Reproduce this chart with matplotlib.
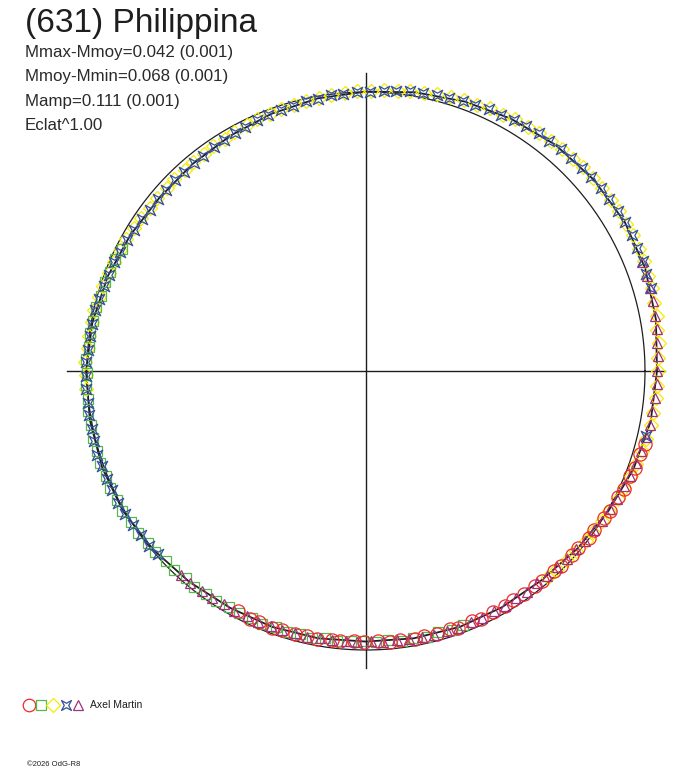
import matplotlib

matplotlib.use("Agg")

import matplotlib.pyplot as plt
import numpy as np
from matplotlib.path import Path

# --- data ------------------------------------------------------------------

TITLE = "(631) Philippina"
INFO_LINES = ["Mmax-Mmoy=0.042 (0.001)", "Mmoy-Mmin=0.068 (0.001)",
              "Mamp=0.111 (0.001)", "Eclat^1.00"]
OBSERVER = "Axel Martin"
CREDIT = "\u00a92026 OdG-R8"

# fitted lightcurve: rotational phase -> magnitude relative to mean
FIT_PHASE = [0.000, 0.028, 0.056, 0.083, 0.111, 0.139, 0.167, 0.194, 0.222,
             0.250, 0.278, 0.306, 0.333, 0.361, 0.389, 0.417, 0.444, 0.472,
             0.500, 0.528, 0.556, 0.583, 0.611, 0.639, 0.667, 0.694, 0.722,
             0.750, 0.778, 0.806, 0.833, 0.861, 0.889, 0.917, 0.944, 0.972]
FIT_MAG = [0.032, 0.018, 0.003, -0.012, -0.027, -0.036, -0.040, -0.036,
           -0.025, -0.012, -0.005, 0.011, 0.030, 0.045, 0.057, 0.059, 0.059,
           0.063, 0.067, 0.063, 0.059, 0.057, 0.049, 0.038, 0.028, 0.026,
           0.028, 0.030, 0.038, 0.049, 0.061, 0.071, 0.069, 0.063, 0.053,
           0.042]

RED_PHASE = [0.291, 0.297, 0.305, 0.310, 0.318, 0.324, 0.333, 0.338, 0.347,
             0.352, 0.361, 0.366, 0.375, 0.380, 0.389, 0.394, 0.402, 0.409,
             0.415, 0.423, 0.431, 0.436, 0.445, 0.450, 0.458, 0.466, 0.471,
             0.480, 0.486, 0.493, 0.501, 0.507, 0.515, 0.520, 0.529, 0.535,
             0.542, 0.550, 0.556, 0.564, 0.570, 0.578]
RED_MAG = [-0.002, 0.004, 0.006, 0.013, 0.015, 0.022, 0.026, 0.031, 0.036,
           0.035, 0.044, 0.043, 0.048, 0.052, 0.053, 0.058, 0.055, 0.060,
           0.056, 0.061, 0.057, 0.062, 0.058, 0.063, 0.059, 0.064, 0.060,
           0.066, 0.063, 0.068, 0.065, 0.069, 0.063, 0.066, 0.060, 0.064,
           0.058, 0.062, 0.056, 0.060, 0.055, 0.059]

GREEN_PHASE = [0.442, 0.449, 0.457, 0.464, 0.472, 0.479, 0.487, 0.494, 0.502,
               0.509, 0.517, 0.524, 0.532, 0.539, 0.547, 0.554, 0.562, 0.569,
               0.577, 0.584, 0.592, 0.599, 0.607, 0.614, 0.622, 0.629, 0.637,
               0.644, 0.652, 0.659, 0.667, 0.674, 0.682, 0.689, 0.697, 0.704,
               0.712, 0.719, 0.727, 0.734, 0.742, 0.749, 0.757, 0.764, 0.772,
               0.779, 0.787, 0.794, 0.802, 0.809, 0.817, 0.824]
GREEN_MAG = [0.063, 0.056, 0.064, 0.059, 0.066, 0.061, 0.068, 0.064, 0.070,
             0.068, 0.062, 0.067, 0.060, 0.064, 0.057, 0.062, 0.055, 0.060,
             0.054, 0.058, 0.051, 0.054, 0.047, 0.050, 0.043, 0.044, 0.037,
             0.039, 0.031, 0.033, 0.026, 0.030, 0.025, 0.029, 0.024, 0.028,
             0.025, 0.030, 0.026, 0.031, 0.027, 0.032, 0.029, 0.036, 0.034,
             0.041, 0.039, 0.047, 0.045, 0.052, 0.050, 0.058]

YELLOW_PHASE = [0.740, 0.748, 0.755, 0.763, 0.770, 0.778, 0.785, 0.793, 0.800,
                0.808, 0.815, 0.823, 0.830, 0.838, 0.845, 0.853, 0.860, 0.868,
                0.875, 0.883, 0.890, 0.898, 0.905, 0.913, 0.920, 0.928, 0.935,
                0.943, 0.950, 0.958, 0.965, 0.973, 0.980, 0.988, 0.995,
                0.003, 0.010, 0.018, 0.025, 0.033, 0.040, 0.048, 0.055, 0.063,
                0.070, 0.078, 0.085, 0.093, 0.100, 0.108, 0.115, 0.123, 0.130,
                0.138, 0.145, 0.153, 0.160, 0.168, 0.175, 0.183, 0.190, 0.198,
                0.205, 0.213, 0.220, 0.228, 0.235, 0.243, 0.250, 0.258, 0.265,
                0.273, 0.280, 0.288, 0.295, 0.303, 0.310, 0.318, 0.325, 0.333,
                0.340, 0.348, 0.355, 0.363, 0.370, 0.378, 0.385]
YELLOW_MAG = [0.026, 0.029, 0.027, 0.032, 0.031, 0.037, 0.036, 0.042, 0.043,
              0.048, 0.049, 0.054, 0.055, 0.061, 0.062, 0.066, 0.066, 0.068,
              0.065, 0.068, 0.064, 0.066, 0.062, 0.062, 0.057, 0.057, 0.052,
              0.052, 0.046, 0.046, 0.041, 0.040, 0.035, 0.034, 0.029,
              0.028, 0.022, 0.021, 0.015, 0.014, 0.008, 0.005, -0.001, -0.003,
              -0.009, -0.011, -0.017, -0.019, -0.025, -0.027, -0.032, -0.033,
              -0.037, -0.037, -0.041, -0.040, -0.043, -0.041, -0.043, -0.040,
              -0.040, -0.036, -0.036, -0.031, -0.030, -0.024, -0.023, -0.018,
              -0.016, -0.013, -0.012, -0.008, -0.008, -0.002, 0.001, 0.008,
              0.010, 0.018, 0.021, 0.028, 0.030, 0.036, 0.038, 0.044, 0.045,
              0.050, 0.051]

BLUE_PHASE = [0.635, 0.642, 0.650, 0.657, 0.665, 0.672, 0.680, 0.687, 0.695,
              0.702, 0.710, 0.717, 0.725, 0.732, 0.740, 0.747, 0.755, 0.762,
              0.770, 0.777, 0.785, 0.792, 0.800, 0.807, 0.815, 0.822, 0.830,
              0.837, 0.845, 0.852, 0.860, 0.867, 0.875, 0.882, 0.890, 0.897,
              0.905, 0.912, 0.920, 0.927, 0.935, 0.942, 0.950, 0.957, 0.965,
              0.972, 0.980, 0.987, 0.995,
              0.002, 0.010, 0.017, 0.025, 0.032, 0.040, 0.047, 0.055, 0.062,
              0.070, 0.077, 0.085, 0.092, 0.100, 0.107, 0.115, 0.122, 0.130,
              0.137, 0.145, 0.152, 0.160, 0.167, 0.175, 0.182, 0.190, 0.197,
              0.205, 0.286]
BLUE_MAG = [0.041, 0.036, 0.035, 0.030, 0.029, 0.027, 0.028, 0.025, 0.027,
            0.025, 0.027, 0.028, 0.027, 0.029, 0.028, 0.031, 0.031, 0.035,
            0.035, 0.039, 0.040, 0.045, 0.046, 0.051, 0.052, 0.057, 0.059,
            0.064, 0.065, 0.069, 0.070, 0.071, 0.069, 0.071, 0.068, 0.069,
            0.065, 0.065, 0.061, 0.060, 0.056, 0.055, 0.050, 0.049, 0.044,
            0.043, 0.038, 0.037, 0.033,
            0.032, 0.026, 0.024, 0.018, 0.017, 0.011, 0.009, 0.003, 0.000,
            -0.006, -0.007, -0.014, -0.016, -0.022, -0.023, -0.029, -0.029,
            -0.034, -0.034, -0.038, -0.037, -0.040, -0.039, -0.040, -0.036,
            -0.037, -0.033, -0.033, 0.000]

PURPLE_PHASE = [0.190, 0.198, 0.205, 0.212, 0.220, 0.227, 0.235, 0.242, 0.250,
                0.257, 0.265, 0.272, 0.280, 0.287, 0.295, 0.302, 0.310, 0.317,
                0.325, 0.332, 0.340, 0.347, 0.355, 0.362, 0.370, 0.377, 0.385,
                0.392, 0.400, 0.407, 0.415, 0.422, 0.430, 0.437, 0.445, 0.452,
                0.460, 0.467, 0.475, 0.482, 0.490, 0.497, 0.505, 0.512, 0.520,
                0.527, 0.535, 0.542, 0.550, 0.557, 0.565, 0.572, 0.580, 0.587,
                0.595, 0.602, 0.610, 0.617]
PURPLE_MAG = [-0.035, -0.035, -0.031, -0.030, -0.025, -0.023, -0.018, -0.017,
              -0.011, -0.012, -0.009, -0.005, -0.005, 0.001, 0.004, 0.010,
              0.013, 0.020, 0.024, 0.030, 0.033, 0.039, 0.041, 0.047, 0.048,
              0.053, 0.054, 0.058, 0.057, 0.059, 0.057, 0.060, 0.058, 0.060,
              0.058, 0.061, 0.060, 0.064, 0.062, 0.065, 0.065, 0.068, 0.065,
              0.067, 0.063, 0.064, 0.061, 0.062, 0.059, 0.060, 0.057, 0.059,
              0.056, 0.057, 0.052, 0.052, 0.048, 0.047]

# --- style -----------------------------------------------------------------

INK = "#1e1e1e"
RED = "#ee2b2b"
GREEN = "#58b848"
YELLOW = "#f6ea00"
BLUE = "#34509e"
PURPLE = "#a2307c"

R_CIRCLE = 1.0      # reference circle
R_MEAN = 1.0315     # radius of mean brightness (flux scaling, Eclat^1)
PX = 279.0          # pixels per radius unit
CX, CY = 366.0, 371.0
W, H = 688, 768

plt.rcParams.update({
    "font.family": ["Liberation Sans", "DejaVu Sans"],
    "text.color": INK,
})

# four-point star used for the blue series
STAR = Path([(1, 1), (0, 0.45), (-1, 1), (-0.45, 0), (-1, -1), (0, -0.45),
             (1, -1), (0.45, 0), (1, 1)],
            [Path.MOVETO] + [Path.LINETO] * 7 + [Path.CLOSEPOLY])

SERIES = [
    (YELLOW_PHASE, YELLOW_MAG, "D", YELLOW, 7.0),
    (GREEN_PHASE, GREEN_MAG, "s", GREEN, 7.0),
    (RED_PHASE, RED_MAG, "o", RED, 9.5),
    (PURPLE_PHASE, PURPLE_MAG, "^", PURPLE, 7.5),
    (BLUE_PHASE, BLUE_MAG, STAR, BLUE, 7.5),
]


def polar_xy(phase, mag):
    """Phase 0 at top, turning clockwise; brighter = further out."""
    th = np.deg2rad(90.0 - 360.0 * np.asarray(phase))
    r = R_MEAN * 10 ** (-0.4 * np.asarray(mag))
    return r * np.cos(th), r * np.sin(th)


fig = plt.figure(figsize=(W / 100, H / 100), dpi=100)
ax = fig.add_axes([0, 0, 1, 1])
ax.set_xlim(-CX / PX, (W - CX) / PX)
ax.set_ylim((CY - H) / PX, CY / PX)
ax.axis("off")

ax.plot([-1.072, 1.072], [0, 0], color=INK, lw=1.0, zorder=1)
ax.plot([0, 0], [-1.065, 1.068], color=INK, lw=1.0, zorder=1)

t = np.linspace(0, 2 * np.pi, 400)
ax.plot(R_CIRCLE * np.cos(t), R_CIRCLE * np.sin(t), color=INK, lw=0.9,
        zorder=2)

fx, fy = polar_xy(FIT_PHASE + FIT_PHASE[:1], FIT_MAG + FIT_MAG[:1])
ax.plot(fx, fy, color=INK, lw=1.3, zorder=3)

for ph, mg, mk, col, ms in SERIES:
    x, y = polar_xy(ph, mg)
    ax.plot(x, y, ls="none", marker=mk, ms=ms, mfc="none", mec=col, mew=0.9,
            zorder=4)

# header text
fig.text(25 / W, 1 - 32 / H, TITLE, fontsize=24)
for i, line in enumerate(INFO_LINES):
    fig.text(25 / W, 1 - (57 + 24.5 * i) / H, line, fontsize=12.2,
             color="#2a2a2a")

# legend row
lx = [29, 41, 53, 66, 78]
legend_order = [2, 1, 0, 4, 3]
for px, k in zip(lx, legend_order):
    _, _, mk, col, ms = SERIES[k]
    fig.lines.append(plt.Line2D([px / W], [1 - 704.5 / H], ls="none",
                                marker=mk, ms=ms * 0.95, mfc="none", mec=col,
                                mew=0.9, transform=fig.transFigure))
fig.text(90 / W, 1 - 708.5 / H, OBSERVER, fontsize=7.5)
fig.text(27 / W, 1 - 766 / H, CREDIT, fontsize=5.5)

fig.savefig("out.png", dpi=100, facecolor="white")
